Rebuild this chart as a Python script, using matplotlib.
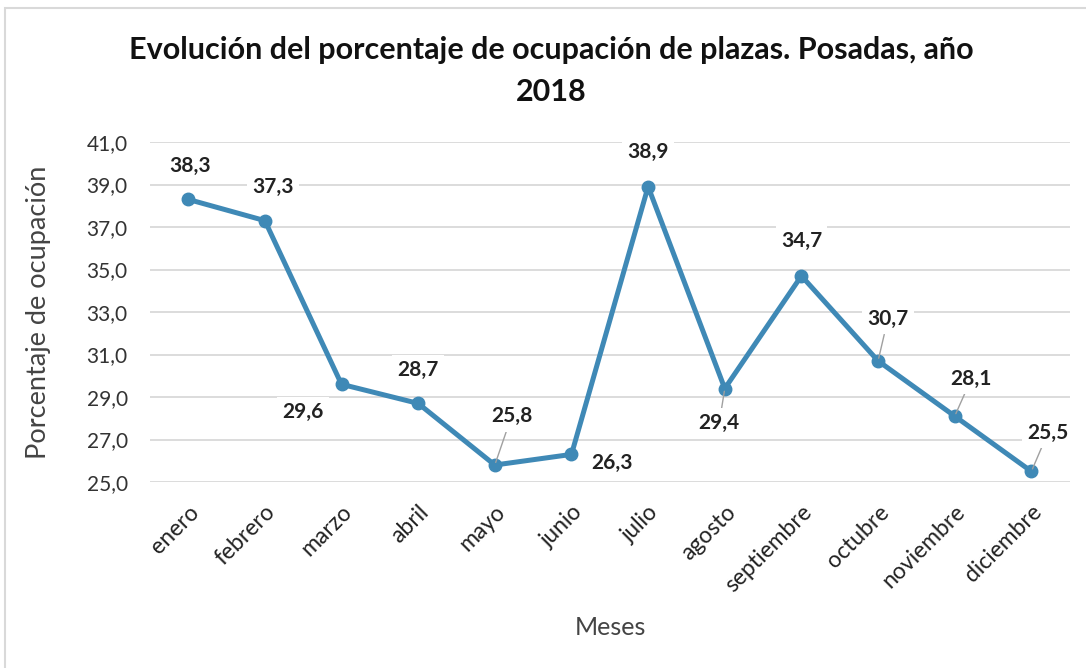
import matplotlib.pyplot as plt
from matplotlib.patches import Rectangle

meses = ["enero", "febrero", "marzo", "abril", "mayo", "junio", "julio",
         "agosto", "septiembre", "octubre", "noviembre", "diciembre"]
ocupacion = [38.3, 37.3, 29.6, 28.7, 25.8, 26.3, 38.9, 29.4, 34.7, 30.7, 28.1, 25.5]
y_ticks = [25, 27, 29, 31, 33, 35, 37, 39, 41]

# label offsets in points (dx, dy) and whether a leader line is drawn
offsets = [(1, 24), (6, 24), (-28, -20), (0, 24), (12, 35), (29, -6),
           (0, 25), (-4, -25), (0, 25), (7, 30), (12, 27), (12, 28)]
leaders = [False, False, False, False, True, False, False, True, False, True, True, True]

plt.rcParams['font.family'] = ['Lato', 'DejaVu Sans']

fig = plt.figure(figsize=(10.86, 6.68), dpi=100)
ax = fig.add_axes([0.138, 0.2784, 0.847, 0.509])

x = list(range(len(meses)))
ax.plot(x, ocupacion, color="#3f89b6", linewidth=3.6, marker="o",
        markersize=9, solid_capstyle="round", zorder=3)

for i, v in enumerate(ocupacion):
    dx, dy = offsets[i]
    arrow = None
    if leaders[i]:
        arrow = dict(arrowstyle="-", color="#a0a0a0", lw=1, shrinkA=0, shrinkB=2)
    ax.annotate(f"{v:.1f}".replace(".", ","), (i, v), xytext=(dx, dy),
                textcoords="offset points", ha="center", va="center",
                fontsize=15, fontweight="bold", color="#222222",
                bbox=dict(boxstyle="square,pad=0.25", fc="white", ec="none"),
                arrowprops=arrow, zorder=4)

ax.set_xlim(-0.5, len(meses) - 0.5)
ax.set_ylim(25, 41)
ax.set_yticks(y_ticks)
ax.set_yticklabels([f"{t:.1f}".replace(".", ",") for t in y_ticks],
                   fontsize=15, color="#333333")
ax.set_xticks(x)
ax.set_xticklabels(meses, rotation=45, ha="right", rotation_mode="anchor",
                   fontsize=16.5, color="#222222")
ax.tick_params(axis="y", length=0, pad=16)
ax.tick_params(axis="x", length=0, pad=14)
ax.grid(axis="y", color="#d9d9d9", linewidth=1.3, zorder=0)
ax.set_axisbelow(True)
for s in ax.spines.values():
    s.set_visible(False)

fig.text(0.035, 0.533, "Porcentaje de ocupación", rotation=90, ha="center",
         va="center", fontsize=19.5, color="#444444")
fig.text(0.562, 0.061, "Meses", ha="center", va="center", fontsize=18,
         color="#444444")
fig.text(0.508, 0.925, "Evolución del porcentaje de ocupación de plazas. Posadas, año",
         ha="center", va="center", fontsize=22, fontweight="bold", color="#111111")
fig.text(0.508, 0.862, "2018", ha="center", va="center", fontsize=22,
         fontweight="bold", color="#111111")

fig.patches.append(Rectangle((0.005, -0.1), 1.2, 1.088, transform=fig.transFigure,
                             fill=False, ec="#d9d9d9", lw=1.5))

plt.savefig("out.png", dpi=100)
